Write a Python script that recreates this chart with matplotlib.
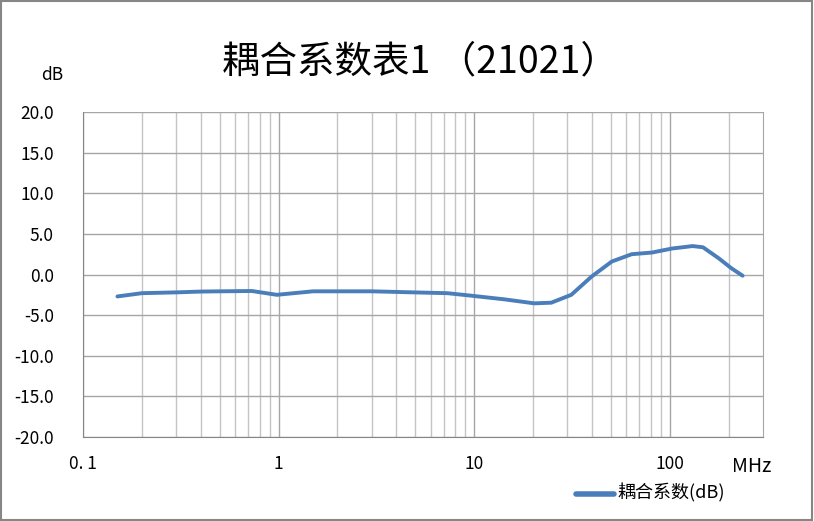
import matplotlib.pyplot as plt
import numpy as np
from matplotlib.ticker import FixedLocator, NullFormatter

plt.rcParams['font.family'] = ['Noto Sans CJK SC', 'DejaVu Sans']

# frequency (MHz) and coupling factor (dB)
freq = [0.15, 0.2, 0.3, 0.4, 0.5, 0.73, 0.98, 1.5, 3.0, 4.9, 7.3, 9.6,
        14.2, 20.3, 24.8, 31.4, 39.8, 50.6, 64, 81, 103, 131, 148, 178,
        207, 236]
coupling = [-2.7, -2.3, -2.2, -2.1, -2.07, -2.03, -2.5, -2.07, -2.07, -2.2,
            -2.3, -2.6, -3.05, -3.55, -3.47, -2.5, -0.27, 1.6, 2.5, 2.7,
            3.2, 3.5, 3.35, 2.0, 0.76, -0.15]

title = "耦合系数表1 （21021）"
series_name = "耦合系数(dB)"
x_ticks = [0.1, 1, 10, 100]
x_tick_labels = ["0. 1", "1", "10", "100"]
y_ticks = [-20, -15, -10, -5, 0, 5, 10, 15, 20]

fig = plt.figure(figsize=(8.14, 5.21), dpi=100)
ax = fig.add_axes([83 / 814, (521 - 437) / 521, 680 / 814, 325 / 521])

ax.plot(freq, coupling, color="#4a7ebb", lw=2.8, solid_capstyle="round",
        solid_joinstyle="round", zorder=3)

ax.set_xscale("log")
ax.set_xlim(0.1, 300)
ax.set_ylim(-20, 20)

minor = [m * 10.0 ** e for e in range(-1, 3) for m in range(2, 10)]
minor = [v for v in minor if v < 300]
ax.xaxis.set_major_locator(FixedLocator(x_ticks))
ax.xaxis.set_minor_locator(FixedLocator(minor))
ax.xaxis.set_minor_formatter(NullFormatter())
ax.set_xticklabels(x_tick_labels)
ax.set_yticks(y_ticks)
ax.set_yticklabels([f"{v:.1f}" for v in y_ticks])

ax.grid(True, which="major", axis="both", color="#a6a6a6", lw=1.0)
ax.grid(True, which="minor", axis="x", color="#c4c4c4", lw=1.0)
ax.tick_params(which="both", length=0, labelsize=12.5, colors="#000000")
ax.tick_params(axis="x", pad=13)
ax.tick_params(axis="y", pad=21)

for side in ["left", "bottom"]:
    ax.spines[side].set_color("#868686")
ax.spines["right"].set_color("#a6a6a6")
ax.spines["top"].set_visible(False)

fig.text(420 / 814, 1 - 62 / 521, title, ha="center", va="center",
         fontsize=27, fontweight="medium")
fig.text(52 / 814, 1 - 75 / 521, "dB", ha="center", va="center", fontsize=12.5)
fig.text(752 / 814, 1 - 467 / 521, "MHz", ha="center", va="center", fontsize=14)

# legend
fig.lines.append(plt.Line2D([576 / 814, 614 / 814], [1 - 494 / 521, 1 - 494 / 521],
                            transform=fig.transFigure, color="#4a7ebb", lw=4,
                            solid_capstyle="round"))
fig.text(617 / 814, 1 - 493 / 521, series_name, ha="left", va="center", fontsize=13)

# outer frame
fig.patches.append(plt.Rectangle((0.001, 0.002), 0.997, 0.996, transform=fig.transFigure,
                                 fill=False, edgecolor="#868686", lw=1.5))

fig.savefig("out.png", dpi=100)
